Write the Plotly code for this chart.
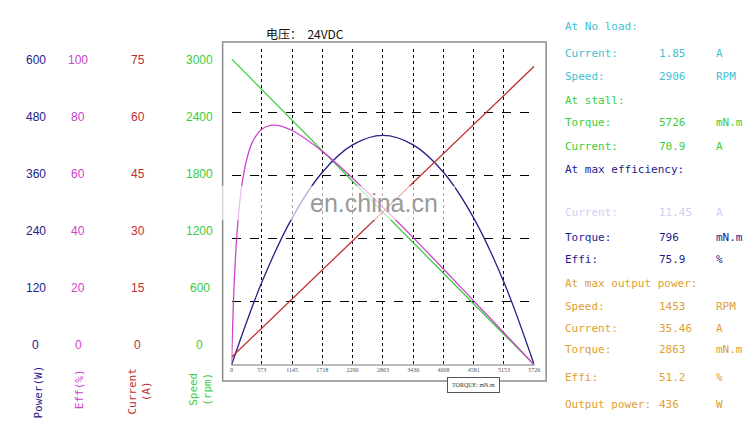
import plotly.graph_objects as go

# torque axis (mN.m)
torque_ticks = [0, 573, 1145, 1718, 2290, 2863, 3436, 4008, 4581, 5153, 5726]
torque_ticktext = ["0", "573", "1145", "1718", "2290", "2863", "3436", "4008", "4581", "5153", "5726"]

# straight lines: speed and current
speed_torque = [0, 5726]
speed_rpm = [2906, 0]
current_torque = [0, 5726]
current_a = [1.85, 70.9]

# output power read at each torque tick
power_torque = torque_ticks
power_w = [0, 157, 279, 366, 418, 436, 418, 366, 279, 157, 0]

# efficiency curve
eff_torque = [0, 50, 100, 150, 200, 300, 400, 573, 796, 1145, 1718, 2290, 2863, 3436, 4008, 4581, 5153, 5726]
eff_pct = [0, 25.6, 40.8, 50.6, 57.4, 65.9, 70.7, 74.6, 75.9, 74.2, 67.6, 59.1, 49.9, 40.3, 30.4, 20.3, 10.2, 0]

# left-hand scale labels (top to bottom)
power_labels = ["600", "480", "360", "240", "120", "0"]
eff_labels = ["100", "80", "60", "40", "20", "0"]
current_labels = ["75", "60", "45", "30", "15", "0"]
speed_labels = ["3000", "2400", "1800", "1200", "600", "0"]

# right-hand info panel: (label, value, unit, colour group)
info_rows = [
    ("At No load:", "", "", "noload"),
    ("Current:", "1.85", "A", "noload"),
    ("Speed:", "2906", "RPM", "noload"),
    ("At stall:", "", "", "stall"),
    ("Torque:", "5726", "mN.m", "stall"),
    ("Current:", "70.9", "A", "stall"),
    ("At max efficiency:", "", "", "maxeff"),
    ("Current:", "11.45", "A", "blur"),
    ("Torque:", "796", "mN.m", "maxeff"),
    ("Effi:", "75.9", "%", "maxeff"),
    ("At max output power:", "", "", "maxpow"),
    ("Speed:", "1453", "RPM", "maxpow"),
    ("Current:", "35.46", "A", "maxpow"),
    ("Torque:", "2863", "mN.m", "maxpow"),
    ("Effi:", "51.2", "%", "maxpow"),
    ("Output power:", "436", "W", "maxpow"),
]
info_y = [27, 54, 77, 100, 122, 146, 169, 212, 237, 259, 283, 306, 328, 349, 377, 404]

W, H = 750, 421
C_POWER = "#22228a"
C_EFF = "#cc44cc"
C_CUR = "#c03030"
C_SPEED = "#3ccc3c"
group_colors = {"noload": "#3fbfd2", "stall": "#3ccc3c", "maxeff": "#1c1c8c",
                "maxpow": "#e0a030", "blur": "#d0d0f4"}


def px(x):
    return x / W


def py(y):
    return 1 - y / H


fig = go.Figure()
fig.add_trace(go.Scatter(x=speed_torque, y=speed_rpm, mode="lines",
                         line=dict(color=C_SPEED, width=1.3), yaxis="y"))
fig.add_trace(go.Scatter(x=power_torque, y=power_w, mode="lines",
                         line=dict(color=C_POWER, width=1.3, shape="spline"), yaxis="y2"))
fig.add_trace(go.Scatter(x=eff_torque, y=eff_pct, mode="lines",
                         line=dict(color=C_EFF, width=1.3, shape="spline"), yaxis="y3"))
fig.add_trace(go.Scatter(x=current_torque, y=current_a, mode="lines",
                         line=dict(color=C_CUR, width=1.3), yaxis="y4"))

ydom = [1 - 365 / H, 1 - 49 / H]
hidden = dict(overlaying="y", visible=False, domain=ydom)

fig.update_layout(
    width=W, height=H,
    margin=dict(l=0, r=0, t=0, b=0),
    paper_bgcolor="white", plot_bgcolor="white",
    showlegend=False,
    xaxis=dict(domain=[232 / W, 538 / W], range=[0, 5726],
               tickvals=torque_ticks, ticktext=torque_ticktext,
               showgrid=True, gridcolor="black", gridwidth=1, griddash="dot",
               showline=False, zeroline=False, ticks="",
               tickfont=dict(family="Liberation Serif", size=6, color="#555555")),
    yaxis=dict(domain=ydom, range=[0, 3000], dtick=600,
               showgrid=True, gridcolor="black", gridwidth=1, griddash="dash",
               showticklabels=False, zeroline=False, showline=False),
    yaxis2=dict(range=[0, 600], **hidden),
    yaxis3=dict(range=[0, 100], **hidden),
    yaxis4=dict(range=[0, 75], **hidden),
)

shapes = [
    # outer frame
    dict(type="rect", xref="paper", yref="paper", x0=px(223), x1=px(550), y0=py(381), y1=py(42),
         line=dict(color="#8a8a8a", width=1.5), layer="below"),
    # bottom axis line
    dict(type="line", xref="paper", yref="paper", x0=px(232), x1=px(538), y0=py(365), y1=py(365),
         line=dict(color="#777777", width=1)),
    # watermark haze
    dict(type="rect", xref="paper", yref="paper", x0=px(212), x1=px(458), y0=py(220), y1=py(186),
         fillcolor="white", opacity=0.65, line=dict(width=0), layer="above"),
]

annotations = [
    dict(text="电压：  24VDC", x=px(265), y=py(33), xanchor="left", yanchor="middle",
         font=dict(family="Noto Sans CJK SC", size=12, color="#111111")),
    dict(text="TORQUE: mN.m", x=px(477), y=py(385), xanchor="center", yanchor="middle",
         font=dict(family="Liberation Serif", size=6, color="#333333"),
         bgcolor="white", bordercolor="#555555", borderwidth=1, borderpad=4),
    dict(text="en.china.cn", x=px(376), y=py(203), xanchor="center", yanchor="middle",
         font=dict(family="Liberation Sans", size=25, color="#9a9a9a")),
]

label_rows_y = [60, 117, 174, 231, 288, 345]
for labels, xc, col in [(power_labels, 34, C_POWER), (eff_labels, 77, C_EFF),
                        (current_labels, 137, C_CUR), (speed_labels, 200, C_SPEED)]:
    for lab, yy in zip(labels, label_rows_y):
        annotations.append(dict(text=lab, x=px(xc), y=py(yy), xanchor="center", yanchor="middle",
                                font=dict(family="Liberation Sans", size=12, color=col)))

for txt, xc, yc, col in [("Power(W)", 36, 392, C_POWER), ("Eff(%)", 78, 389, C_EFF),
                         ("Current<br>(A)", 138, 392, C_CUR), ("Speed<br>(rpm)", 200, 389, C_SPEED)]:
    annotations.append(dict(text=txt, x=px(xc), y=py(yc), xanchor="center", yanchor="middle",
                            textangle=-90,
                            font=dict(family="DejaVu Sans Mono", size=11, color=col)))

for (lab, val, unit, grp), yy in zip(info_rows, info_y):
    col = group_colors[grp]
    for txt, xl in [(lab, 567), (val, 662), (unit, 720)]:
        if txt:
            annotations.append(dict(text=txt, x=px(xl), y=py(yy), xanchor="left", yanchor="middle",
                                    font=dict(family="DejaVu Sans Mono", size=11, color=col)))

for a in annotations:
    a.setdefault("xref", "paper")
    a.setdefault("yref", "paper")
    a.setdefault("showarrow", False)

fig.update_layout(shapes=shapes, annotations=annotations)
# the page's default body margin would push the figure off by 8px
fig.write_html("out.html", config={"displayModeBar": False},
               post_script="document.body.style.margin='0';document.body.style.overflow='hidden';")
